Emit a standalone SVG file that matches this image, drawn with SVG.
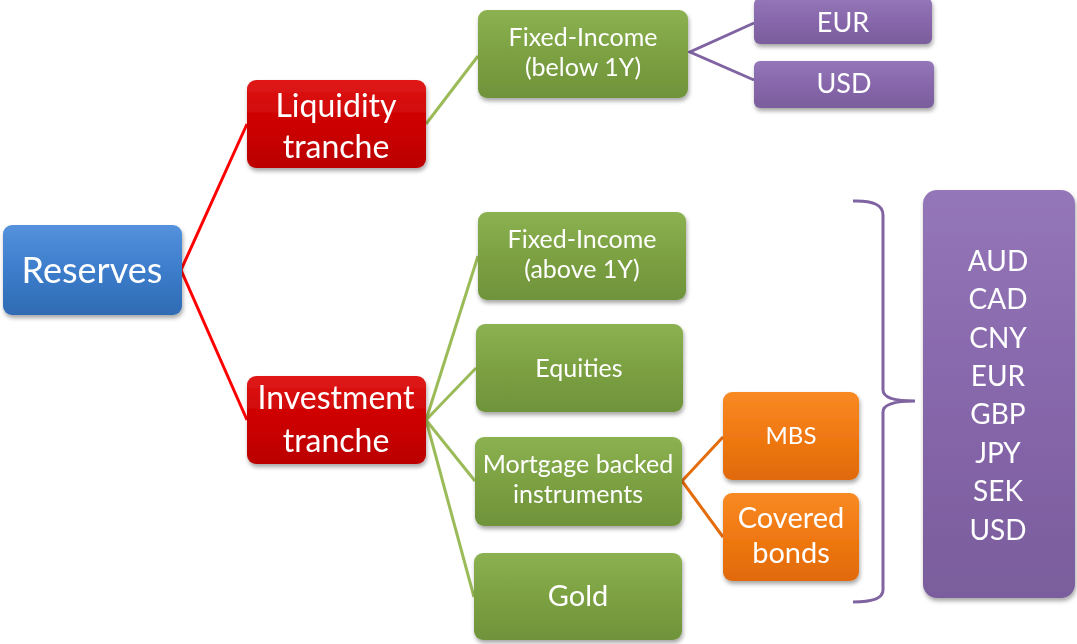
<svg xmlns="http://www.w3.org/2000/svg" width="1077" height="644" viewBox="0 0 1077 644">
<style>
text{font-family:Lato,"Open Sans","Liberation Sans",sans-serif;fill:#fff;text-anchor:middle}
.c{fill:none;stroke-width:3}
.red{stroke:#ff0000}.grn{stroke:#9bbb59}.pur{stroke:#8064a2}.org{stroke:#e46c0a}
.n{filter:url(#sh)}
</style>
<defs>
<filter id="sh" x="-20%" y="-20%" width="140%" height="150%"><feDropShadow dx="1" dy="3" stdDeviation="2" flood-color="#000" flood-opacity="0.35"/></filter>
<linearGradient id="gb" x1="0" y1="0" x2="0" y2="1"><stop offset="0" stop-color="#5591dc"/><stop offset="0.5" stop-color="#3c7dcb"/><stop offset="1" stop-color="#2f6bb3"/></linearGradient>
<linearGradient id="gr" x1="0" y1="0" x2="0" y2="1"><stop offset="0" stop-color="#e01818"/><stop offset="0.5" stop-color="#cc0000"/><stop offset="1" stop-color="#bb0000"/></linearGradient>
<linearGradient id="gg" x1="0" y1="0" x2="0" y2="1"><stop offset="0" stop-color="#8cb151"/><stop offset="0.5" stop-color="#7ca142"/><stop offset="1" stop-color="#6f933a"/></linearGradient>
<linearGradient id="gp" x1="0" y1="0" x2="0" y2="1"><stop offset="0" stop-color="#9477b8"/><stop offset="0.5" stop-color="#8767ab"/><stop offset="1" stop-color="#7a5d9c"/></linearGradient>
<linearGradient id="go" x1="0" y1="0" x2="0" y2="1"><stop offset="0" stop-color="#f88a24"/><stop offset="0.5" stop-color="#f07812"/><stop offset="1" stop-color="#e06a08"/></linearGradient>
</defs>
<g id="connectors">
<polyline class="c red" points="247,124 181,270 247,420"/>
<line class="c grn" x1="426" y1="124" x2="478" y2="56"/>
<polyline class="c pur" points="754,23 690,52 754,80"/>
<line class="c grn" x1="426" y1="420" x2="478" y2="256"/>
<line class="c grn" x1="426" y1="420" x2="476" y2="368"/>
<line class="c grn" x1="426" y1="420" x2="475" y2="481"/>
<line class="c grn" x1="426" y1="420" x2="474" y2="597"/>
<polyline class="c org" points="723,437 682,481 723,537"/>
<path class="c pur" stroke-width="2.5" d="M853,201 Q883,200 883,215 L883,390 Q883,401 915,401 Q883,401 883,412 L883,590 Q883,602 853,602"/>
</g>
<g id="reserves" class="n"><rect x="3" y="225" width="179" height="90" rx="9" fill="url(#gb)"/><text x="92" y="283" font-size="36">Reserves</text></g>
<g id="liquidity" class="n"><rect x="247" y="80" width="179" height="88" rx="9" fill="url(#gr)"/><text x="336" y="117" font-size="32">Liquidity</text><text x="336" y="158" font-size="32">tranche</text></g>
<g id="investment" class="n"><rect x="247" y="376" width="179" height="88" rx="9" fill="url(#gr)"/><text x="336" y="409" font-size="32">Investment</text><text x="336" y="452" font-size="32">tranche</text></g>
<g id="fi-below" class="n"><rect x="478" y="10" width="210" height="88" rx="9" fill="url(#gg)"/><text x="583" y="46" font-size="25">Fixed-Income</text><text x="583" y="76" font-size="25">(below 1Y)</text></g>
<g id="eur-top" class="n"><rect x="754" y="-2" width="178" height="46" rx="6" fill="url(#gp)"/><text x="843" y="32" font-size="27">EUR</text></g>
<g id="usd-top" class="n"><rect x="754" y="61" width="180" height="47" rx="6" fill="url(#gp)"/><text x="844" y="93" font-size="27">USD</text></g>
<g id="fi-above" class="n"><rect x="478" y="212" width="208" height="88" rx="9" fill="url(#gg)"/><text x="582" y="248" font-size="25">Fixed-Income</text><text x="582" y="278" font-size="25">(above 1Y)</text></g>
<g id="equities" class="n"><rect x="476" y="324" width="207" height="88" rx="9" fill="url(#gg)"/><text x="579" y="377" font-size="25">Equities</text></g>
<g id="mortgage" class="n"><rect x="475" y="437" width="207" height="89" rx="9" fill="url(#gg)"/><text x="578" y="473" font-size="25">Mortgage backed</text><text x="578" y="503" font-size="25">instruments</text></g>
<g id="gold" class="n"><rect x="474" y="553" width="208" height="87" rx="9" fill="url(#gg)"/><text x="578" y="606" font-size="29">Gold</text></g>
<g id="mbs" class="n"><rect x="723" y="392" width="136" height="88" rx="9" fill="url(#go)"/><text x="791" y="444" font-size="24">MBS</text></g>
<g id="covered" class="n"><rect x="723" y="493" width="136" height="88" rx="9" fill="url(#go)"/><text x="791" y="528" font-size="29">Covered</text><text x="791" y="563" font-size="29">bonds</text></g>
<g id="currencies" class="n"><rect x="923" y="190" width="152" height="408" rx="14" fill="url(#gp)"/>
<text x="998" y="271" font-size="28">AUD</text><text x="998" y="309" font-size="28">CAD</text><text x="998" y="348" font-size="28">CNY</text><text x="998" y="386" font-size="28">EUR</text><text x="998" y="424" font-size="28">GBP</text><text x="998" y="463" font-size="28">JPY</text><text x="998" y="501" font-size="28">SEK</text><text x="998" y="540" font-size="28">USD</text></g>
</svg>
